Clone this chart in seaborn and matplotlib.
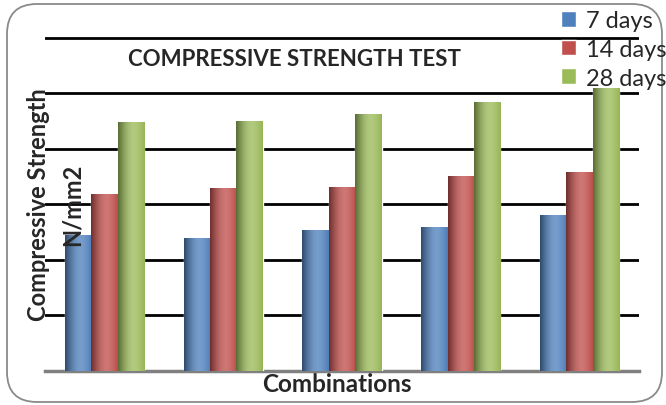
import numpy as np
import pandas as pd
import matplotlib
matplotlib.use("Agg")
import matplotlib.pyplot as plt
import seaborn as sns
from matplotlib.colors import to_rgb
from matplotlib.patches import FancyBboxPatch

# Compressive strength (N/mm2) of five mix combinations at three curing ages
combinations = ["C1", "C2", "C3", "C4", "C5"]
ages = ["7 days", "14 days", "28 days"]
strength_7 = [24.5, 23.9, 25.4, 25.9, 28.0]
strength_14 = [31.9, 33.0, 33.2, 35.1, 35.9]
strength_28 = [44.9, 45.1, 46.2, 48.4, 50.9]
palette = ["#4F81BD", "#C0504D", "#9BBB59"]

df = pd.DataFrame({
    "Combination": combinations * 3,
    "Age": [a for a in ages for _ in combinations],
    "Strength": strength_7 + strength_14 + strength_28,
})

sns.set_theme(style="white")
plt.rcParams["font.family"] = ["Lato", "DejaVu Sans"]

W, H = 666, 406
fig = plt.figure(figsize=(W / 100, H / 100), dpi=100)
fig.patch.set_facecolor("white")

# rounded chart-area frame
frame = FancyBboxPatch((7 / 100, 3 / 100), 655 / 100, 398 / 100,
                       boxstyle="round,pad=0,rounding_size=0.3",
                       transform=fig.dpi_scale_trans, facecolor="none",
                       edgecolor="#8a8a8a", linewidth=1.3, zorder=-10)
fig.patches.append(frame)

ax = fig.add_axes([45 / W, 34 / H, 594 / W, 336 / H])
ax.set_facecolor("none")
sns.barplot(data=df, x="Combination", y="Strength", hue="Age",
            palette=palette, saturation=1, width=0.667, errorbar=None,
            ax=ax, zorder=3)

handles, labels = ax.get_legend_handles_labels()
ax.get_legend().remove()

ax.set_ylim(0, 60.5)
ax.set_yticks([10, 20, 30, 40, 50, 60])
ax.set_yticklabels([])
ax.set_xticklabels([])
ax.set_ylabel("")
ax.tick_params(length=0)
ax.grid(axis="y", color="black", linewidth=2)
ax.grid(axis="x", visible=False)
ax.set_axisbelow(True)
for side in ["left", "right", "top"]:
    ax.spines[side].set_visible(False)
ax.spines["bottom"].set_color("#808080")
ax.spines["bottom"].set_linewidth(2.5)


def shade(base):
    """Horizontal cylinder-like shading for one bar colour."""
    b = np.array(to_rgb(base))
    dark = b * 0.58
    light = b + (1 - b) * 0.22
    edge = b * 0.97
    t = np.linspace(0, 1, 64)
    cols = np.empty((1, t.size, 3))
    for i, v in enumerate(t):
        if v < 0.6:
            s = np.sin(v / 0.6 * np.pi / 2)
            c = dark + (light - dark) * s
        else:
            s = (v - 0.6) / 0.4
            c = light + (edge - light) * s ** 1.5
        cols[0, i] = c
    return np.clip(cols, 0, 1)


xl, yl = ax.get_xlim(), ax.get_ylim()
for cont, col in zip(ax.containers, palette):
    grad = shade(col)
    for p in cont.patches:
        x0, w, h = p.get_x(), p.get_width(), p.get_height()
        im = ax.imshow(grad, extent=[x0, x0 + w, 0, h], aspect="auto",
                       interpolation="bilinear", zorder=p.get_zorder() + 0.1)
        im.set_clip_path(p)
ax.set_xlim(xl)
ax.set_ylim(yl)

ax.set_title("COMPRESSIVE STRENGTH TEST", fontsize=16, fontweight="bold",
             x=(294 - 45) / 594, y=(372 - 59) / 336, va="center", pad=0)
ax.set_xlabel("Combinations", fontsize=17.5, fontweight="bold")
ax.xaxis.set_label_coords((337 - 45) / 594, -0.003)

# vertical axis title sits over the plot area, on top of the bars
ax.text((55 - 45) / 594, (372 - 205) / 336, "Compressive Strength\nN/mm2",
        transform=ax.transAxes, rotation=90, ha="center", va="center",
        fontsize=17, fontweight="bold", linespacing=1.55, zorder=10)

fig.legend(handles, labels, loc="upper left",
           bbox_to_anchor=(561 / W, 1 - 11 / H), frameon=False,
           fontsize=17, handlelength=0.65, handleheight=0.65,
           handletextpad=0.4, labelspacing=0.33, borderpad=0,
           borderaxespad=0)

fig.savefig("out.png", dpi=100)
